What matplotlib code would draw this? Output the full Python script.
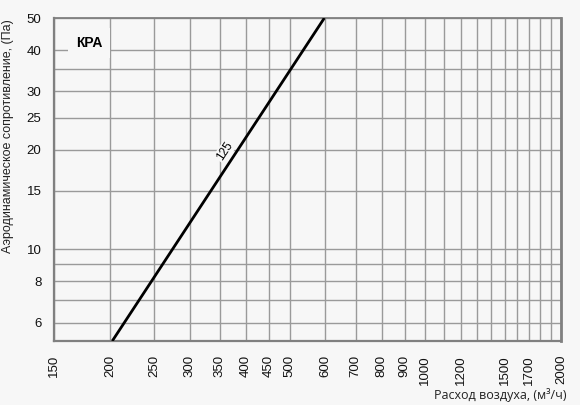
import matplotlib
matplotlib.use('Agg')
import matplotlib.pyplot as plt
import numpy as np
from matplotlib.ticker import FixedLocator, FixedFormatter, NullFormatter

# line "125": air flow (m3/h) vs pressure drop (Pa), read at the axes edges
flow = [202, 597]
pressure = [5.28, 50]

x_ticks = [150, 200, 250, 300, 350, 400, 450, 500, 600, 700, 800, 900,
           1000, 1200, 1500, 1700, 2000]
x_minor = [1100, 1300, 1400, 1600, 1800, 1900]
y_ticks = [6, 8, 10, 15, 20, 25, 30, 40, 50]
y_minor = [7, 9, 35]

bg = '#f7f7f7'
grid_c = '#9a9a9a'

plt.rcParams['font.family'] = ['Liberation Sans', 'DejaVu Sans']

fig = plt.figure(figsize=(5.8, 4.05), dpi=100, facecolor=bg)
ax = fig.add_axes([54/580, 1-341/405, (561-54)/580, (341-18)/405])
ax.set_facecolor(bg)
ax.set_xscale('log')
ax.set_yscale('log')
ax.set_xlim(150, 2000)
ax.set_ylim(5.28, 50)

ax.xaxis.set_major_locator(FixedLocator(x_ticks))
ax.xaxis.set_major_formatter(FixedFormatter([str(v) for v in x_ticks]))
ax.xaxis.set_minor_locator(FixedLocator(x_minor))
ax.xaxis.set_minor_formatter(NullFormatter())
ax.yaxis.set_major_locator(FixedLocator(y_ticks))
ax.yaxis.set_major_formatter(FixedFormatter([str(v) for v in y_ticks]))
ax.yaxis.set_minor_locator(FixedLocator(y_minor))
ax.yaxis.set_minor_formatter(NullFormatter())

ax.tick_params(which='both', length=0)
ax.tick_params(axis='x', labelrotation=90, labelsize=9.5, pad=10, colors='#111111')
ax.tick_params(axis='y', labelsize=9.5, pad=9, colors='#111111')
ax.grid(True, which='both', color=grid_c, linewidth=1.0)
ax.set_axisbelow(True)

for side, lw in [('left', 1.6), ('bottom', 1.6), ('top', 1.3), ('right', 2.0)]:
    ax.spines[side].set_color('#808080')
    ax.spines[side].set_linewidth(lw)

ax.plot(flow, pressure, color='black', linewidth=2.0, solid_capstyle='butt', zorder=3)

# angle of the line on screen for the "125" label
p0 = ax.transData.transform((flow[0], pressure[0]))
p1 = ax.transData.transform((flow[1], pressure[1]))
ang = np.degrees(np.arctan2(p1[1]-p0[1], p1[0]-p0[0]))
n = np.log(pressure[1]/pressure[0]) / np.log(flow[1]/flow[0])
p_lab = 19.0
q_lab = flow[0] * (p_lab/pressure[0]) ** (1/n)
ax.annotate('125', xy=(q_lab, p_lab), xytext=(-6, 4), textcoords='offset points',
            rotation=ang, rotation_mode='anchor', fontsize=8.5, ha='center', va='center',
            bbox=dict(boxstyle='square,pad=0.1', facecolor=bg, edgecolor='none'), zorder=4)

ax.text(0.043, 0.923, 'КРА', transform=ax.transAxes, fontsize=10, fontweight='bold',
        ha='left', va='center',
        bbox=dict(boxstyle='square,pad=0.55', facecolor=bg, edgecolor='none'), zorder=4)

fig.text(8/580, 1-136/405, 'Аэродинамическое сопротивление, (Па)', rotation=90,
         fontsize=9, ha='center', va='center', color='#222222')
fig.text(566/580, 1-395/405, 'Расход воздуха, (м³/ч)', fontsize=9,
         family=['Open Sans', 'DejaVu Sans'], ha='right', va='center', color='#222222')

fig.savefig('out.png', dpi=100, facecolor=bg)
